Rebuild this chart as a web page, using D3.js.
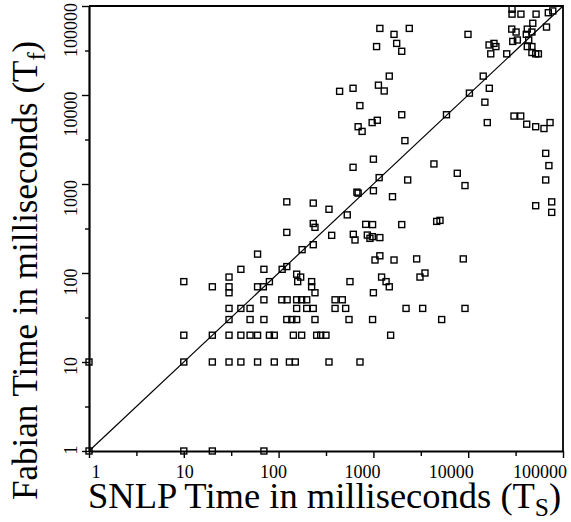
<!DOCTYPE html>
<html><head><meta charset="utf-8">
<script src="https://cdn.jsdelivr.net/npm/d3@7"></script>
<style>body{margin:0;background:#fff}svg{display:block}</style>
</head><body>
<svg id="c" width="571" height="522"></svg>
<script>
// ---- data ----
const xTickValues = [1, 10, 100, 1000, 10000, 100000];
const yTickValues = [1, 10, 100, 1000, 10000, 100000];
const xTickLabels = ["1", "10", "100", "1000", "10000", "100000"];
const yTickLabels = ["1", "10", "100", "1000", "10000", "100000"];
const minorTickValues = [3.162, 31.62, 316.2, 3162, 31620];
const xTitle = ["SNLP Time in milliseconds (T", "S", ")"];
const yTitle = ["Fabian Time in milliseconds (T", "f", ")"];

// SNLP time (x) and Fabian time (y), ms
const snlpTimes = [
  29000, 29000, 36000, 52000, 70000, 78000, 1170, 2390, 1650, 9950,
  1080, 1760, 1990, 48000, 67000, 28800, 32000, 42000, 47000, 41000,
  29500, 33000, 43500, 16600, 18700, 19600, 17300, 25500, 42000, 47000,
  47000, 51500, 55000, 440, 610, 1130, 1300, 720, 970, 1100,
  690, 760, 1000, 610, 1150, 670, 690, 1000, 1470, 14400,
  16700, 10300, 15000, 5900, 1990, 15900, 30400, 35800, 41400, 51500,
  63000, 73000, 2150, 4350, 7670, 9250, 2300, 1590, 65700, 71000,
  65700, 76000, 51500, 76000, 980, 1990, 4650, 5040, 973, 1170,
  1040, 1170, 1650, 2860, 8870, 1220, 1360, 1470, 3100, 3500,
  1000, 2210, 3310, 9250, 980, 5250, 1520, 122, 232, 340,
  530, 232, 242, 122, 363, 829, 614, 640, 863, 232,
  177, 60, 40, 70, 109, 122, 155, 171, 159, 80,
  223, 223, 242, 566, 10, 20, 30, 30, 30, 60,
  69, 70, 108, 123, 155, 175, 198, 394, 470, 30,
  40, 50, 155, 198, 232, 394, 510, 30, 50, 70,
  122, 138, 155, 242, 553, 10, 20, 30, 40, 50,
  60, 80, 90, 143, 175, 252, 278, 316, 10, 20,
  30, 40, 60, 90, 130, 150, 340, 722, 1, 1,
  10, 20, 70, 920
];
const fabianTimes = [
  92000, 81000, 81000, 81000, 84000, 88000, 56000, 56000, 48000, 48000,
  35000, 38000, 31000, 64000, 58000, 55000, 51000, 55000, 51000, 48000,
  40000, 41500, 41500, 36500, 38000, 35000, 29000, 29000, 35000, 35000,
  30000, 29000, 29000, 11000, 11900, 12900, 11100, 7600, 4900, 5200,
  4400, 3900, 1900, 1540, 1180, 810, 790, 840, 16300, 16300,
  11900, 10500, 8300, 6000, 6000, 4900, 5800, 5800, 4700, 4400,
  4200, 4900, 3070, 1680, 1320, 960, 1110, 720, 2210, 1610,
  1110, 630, 570, 480, 350, 350, 380, 390, 256, 250,
  140, 156, 140, 144, 144, 90, 80, 70, 90, 100,
  60, 40, 40, 40, 30, 30, 20, 630, 610, 520,
  450, 360, 326, 286, 265, 352, 272, 235, 267, 208,
  183, 163, 110, 110, 110, 118, 97, 90, 80, 80,
  80, 70, 60, 80, 80, 70, 90, 70, 60, 70,
  70, 50, 50, 50, 50, 50, 50, 50, 50, 40,
  40, 40, 40, 40, 40, 40, 40, 30, 30, 30,
  30, 30, 30, 30, 30, 20, 20, 20, 20, 20,
  20, 20, 20, 20, 20, 20, 20, 20, 10, 10,
  10, 10, 10, 10, 10, 10, 10, 10, 10, 1,
  1, 1, 1, 245
];

// ---- drawing ----
const svg = d3.select("#c");
const m = {left: 89, right: 563, top: 6, bottom: 451};
const x = d3.scaleLog().domain([1, 100000]).range([m.left, m.right]);
const y = d3.scaleLog().domain([1, 100000]).range([m.bottom, m.top]);
// tick labels in the reference sit on a slightly compressed grid
const xLab = d3.scaleLog().domain([1, 100000]).range([96, 540]);
const yLab = d3.scaleLog().domain([1, 100000]).range([450, 30]);
const font = "'Liberation Serif','Times New Roman',serif";

// frame (top/right)
svg.append("path")
  .attr("d", `M${m.left},${m.top}H${m.right}V${m.bottom}`)
  .attr("fill", "none").attr("stroke", "#000").attr("stroke-width", 1.8);

// diagonal
svg.append("line")
  .attr("x1", x(1)).attr("y1", y(1)).attr("x2", x(100000)).attr("y2", y(100000))
  .attr("stroke", "#000").attr("stroke-width", 1.2);

// axes
function styleAxis(g) {
  g.select(".domain").attr("stroke-width", 2.2);
  g.selectAll(".tick line").attr("stroke-width", 1.4);
}
const gx = svg.append("g").attr("transform", `translate(0,${m.bottom})`)
  .call(d3.axisBottom(x).tickValues(xTickValues).tickSize(7).tickSizeOuter(0).tickFormat(""));
styleAxis(gx);
const gxm = svg.append("g").attr("transform", `translate(0,${m.bottom})`)
  .call(d3.axisBottom(x).tickValues(minorTickValues).tickSize(5).tickSizeOuter(0).tickFormat(""));
gxm.select(".domain").remove();
gxm.selectAll(".tick line").attr("stroke-width", 1.4);

const gy = svg.append("g").attr("transform", `translate(${m.left},0)`)
  .call(d3.axisLeft(y).tickValues(yTickValues).tickSize(7).tickSizeOuter(0).tickFormat(""));
styleAxis(gy);
const gym = svg.append("g").attr("transform", `translate(${m.left},0)`)
  .call(d3.axisLeft(y).tickValues(minorTickValues).tickSize(4).tickSizeOuter(0).tickFormat(""));
gym.select(".domain").remove();
gym.selectAll(".tick line").attr("stroke-width", 1.4);

// tick labels
svg.append("g").selectAll("text").data(xTickValues).join("text")
  .attr("x", d => xLab(d)).attr("y", 478)
  .attr("text-anchor", "middle")
  .attr("font-family", font).attr("font-size", 18)
  .text((d, i) => xTickLabels[i]);
svg.append("g").selectAll("text").data(yTickValues).join("text")
  .attr("transform", d => `translate(77,${yLab(d)}) rotate(-90)`)
  .attr("text-anchor", "middle")
  .attr("font-family", font).attr("font-size", 18)
  .text((d, i) => yTickLabels[i]);

// points
const pts = snlpTimes.map((v, i) => [v, fabianTimes[i]]);
const s = 6;
svg.append("g").selectAll("rect").data(pts).join("rect")
  .attr("x", d => x(d[0]) - s / 2).attr("y", d => y(d[1]) - s / 2)
  .attr("width", s).attr("height", s)
  .attr("fill", "none").attr("stroke", "#000").attr("stroke-width", 1.4);

// titles
function title(t, parts, size) {
  t.attr("font-family", font).attr("font-size", size);
  t.append("tspan").text(parts[0]);
  t.append("tspan").text(parts[1]).attr("font-size", size * 0.7).attr("dy", size * 0.22);
  t.append("tspan").text(parts[2]).attr("dy", -size * 0.22);
}
svg.append("text").attr("x", 88).attr("y", 508).call(title, xTitle, 36.5);
svg.append("text").attr("transform", "translate(37,500) rotate(-90)").call(title, yTitle, 35);
</script>
</body></html>
